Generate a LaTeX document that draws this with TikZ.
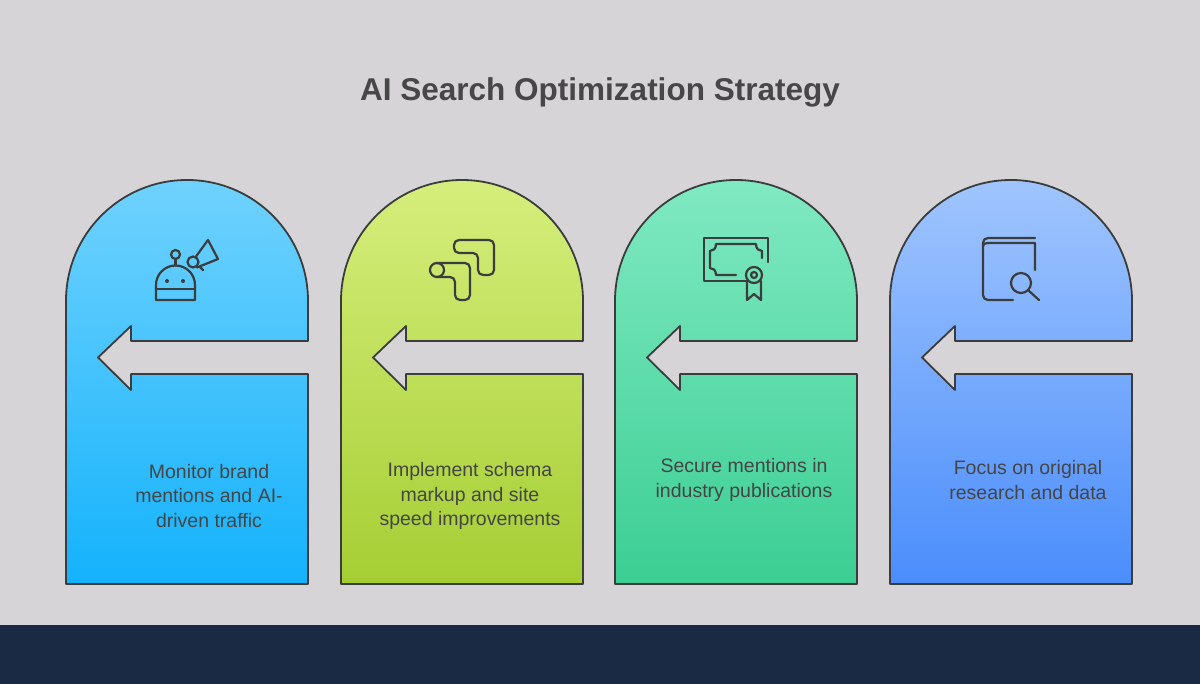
\documentclass[tikz,border=0pt]{standalone}
\usepackage{fontspec}
\setmainfont{Liberation Sans}
\begin{document}
\begin{tikzpicture}[x=1pt,y=-1pt,
  outl/.style={draw=linec,line width=1.8pt,line join=round},
  ico/.style={draw=linec,line width=2.2pt,line cap=round,line join=round},
  lbl/.style={text=txtc,font=\fontsize{19.5}{24.5}\selectfont,align=center,inner sep=0pt}]
\definecolor{bg}{HTML}{D6D4D6}
\definecolor{navy}{HTML}{1B2A44}
\definecolor{linec}{HTML}{3A3C3E}
\definecolor{txtc}{HTML}{454545}
\definecolor{ttlc}{HTML}{474747}
\definecolor{aT}{HTML}{70D2FD}\definecolor{aB}{HTML}{14B2FC}
\definecolor{bT}{HTML}{D6EE7C}\definecolor{bB}{HTML}{A5CE33}
\definecolor{cT}{HTML}{80E9C2}\definecolor{cB}{HTML}{3BCE93}
\definecolor{dT}{HTML}{A0C5FD}\definecolor{dB}{HTML}{4A8DFC}
\fill[bg] (0,0) rectangle (1200,625);
\fill[navy] (0,625) rectangle (1200,684);
\useasboundingbox (0,0) rectangle (1200,684);
\node[text=ttlc,font=\fontsize{31.5}{36}\selectfont\bfseries] (title) at (600,92) {AI Search Optimization Strategy};
\newcommand\archshape[3]{%
\begin{scope}[xshift=#1pt]
\path[outl,top color=#2,bottom color=#3] (0,584) -- (0,301) arc[start angle=180,end angle=360,radius=121] -- (242,341) -- (65,341) -- (65,326) -- (32,357.5) -- (65,390) -- (65,374) -- (242,374) -- (242,584) -- cycle;
\end{scope}}
\archshape{66}{aT}{aB}
\archshape{341}{bT}{bB}
\archshape{615}{cT}{cB}
\archshape{890}{dT}{dB}
% icon 1: robot with megaphone
\draw[ico] (156,300) -- (156,285) arc[start angle=180,end angle=360,radius=19.5] -- (195,300) -- cycle;
\draw[ico] (156,289) -- (195,289);
\fill[linec] (167,281) circle[radius=2] (183,281) circle[radius=2];
\draw[ico] (175.5,265.5) -- (175.5,259);
\draw[ico] (175.5,254.5) circle[radius=4.5];
\draw[ico] (193,262) circle[radius=5.5];
\draw[ico] (196,256.5) -- (208,240) -- (218,259) -- (197,267.5);
\draw[ico] (200,267) -- (203,270);
% icon 2: two L shapes
\draw[ico,rounded corners=5pt] (454,240) -- (494,240) -- (494,275) -- (478,275) -- (478,253) -- (454,253) -- cycle;
\draw[ico,rounded corners=5pt] (437,263) -- (470,263) -- (470,300) -- (455,300) -- (455,277) -- (437,277);
\draw[ico] (437,270) circle[radius=7];
% icon 3: certificate
\draw[ico] (748,281) -- (704,281) -- (704,238) -- (768,238) -- (768,262);
\draw[ico] (736,275) -- (716,275) .. controls (716,270) and (713,268) .. (710,268) -- (710,251) .. controls (713,251) and (716,249) .. (716,244) -- (756,244) .. controls (756,249) and (759,251) .. (762,251) -- (762,258);
\draw[ico] (754,275) circle[radius=8];
\draw[ico] (754,275) circle[radius=3];
\draw[ico] (747,281) -- (747,300) -- (754,294) -- (761,300) -- (761,281);
% icon 4: book with magnifier
\draw[ico] (1013,300) -- (988,300) .. controls (985,300) and (983,298) .. (983,295) -- (983,243) .. controls (983,240) and (985,238) .. (988,238) -- (1035,238);
\draw[ico] (983,246) .. controls (983,244) and (985,243) .. (988,243) -- (1035,243) -- (1035,270);
\draw[ico] (1021,283) circle[radius=10];
\draw[ico] (1028.5,290.5) -- (1039,300);
% labels
\node[lbl] (t1) at (209,496) {Monitor brand\\ mentions and AI-\\ driven traffic};
\node[lbl] (t2) at (470,496) {Implement schema\\ markup and site\\ speed improvements};
\node[lbl] (t3) at (744,480) {Secure mentions in\\ industry publications};
\node[lbl] (t4) at (1028,480) {Focus on original\\ research and data};
\end{tikzpicture}
\end{document}
